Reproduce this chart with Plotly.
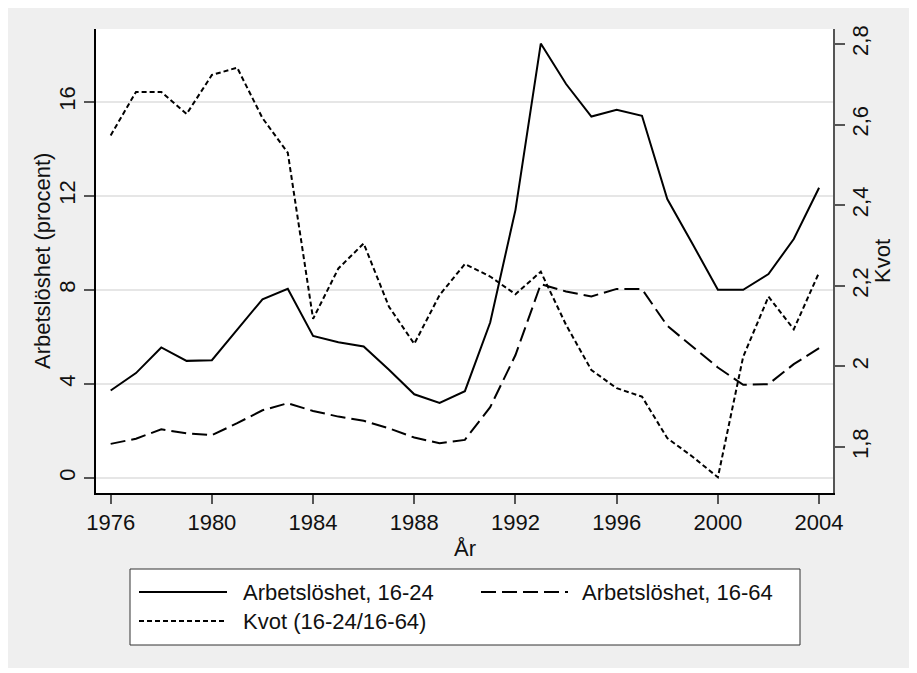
import plotly.graph_objects as go

# ---------------- data ----------------
years = [1976, 1977, 1978, 1979, 1980, 1981, 1982, 1983, 1984, 1985,
         1986, 1987, 1988, 1989, 1990, 1991, 1992, 1993, 1994, 1995,
         1996, 1997, 1998, 1999, 2000, 2001, 2002, 2003, 2004]
unemp_16_24 = [3.72, 4.46, 5.55, 4.98, 5.01, 6.31, 7.60, 8.04, 6.04, 5.77,
               5.59, 4.60, 3.56, 3.19, 3.69, 6.61, 11.40, 18.47, 16.75, 15.37,
               15.66, 15.40, 11.86, 9.95, 8.00, 8.00, 8.67, 10.16, 12.34]
unemp_16_64 = [1.45, 1.67, 2.07, 1.90, 1.82, 2.33, 2.88, 3.18, 2.85, 2.61,
               2.43, 2.11, 1.72, 1.48, 1.62, 3.01, 5.23, 8.24, 7.93, 7.72,
               8.04, 8.03, 6.47, 5.59, 4.70, 3.96, 3.99, 4.84, 5.52]
kvot = [2.573, 2.681, 2.681, 2.626, 2.723, 2.741, 2.616, 2.530, 2.118, 2.243,
        2.305, 2.148, 2.056, 2.177, 2.254, 2.223, 2.179, 2.235, 2.103, 1.991,
        1.946, 1.925, 1.822, 1.776, 1.725, 2.024, 2.173, 2.092, 2.233]

x_ticks = [1976, 1980, 1984, 1988, 1992, 1996, 2000, 2004]
left_ticks = [0, 4, 8, 12, 16]
right_tickvals = [1.8, 2.0, 2.2, 2.4, 2.6, 2.8]
right_ticktext = ["1,8", "2", "2,2", "2,4", "2,6", "2,8"]

names = ["Arbetslöshet, 16-24", "Arbetslöshet, 16-64", "Kvot (16-24/16-64)"]
dashes = ["solid", "15px,6px", "5px,3px"]

# ---------------- geometry helpers (layout only) ----------------
# page coordinates of the reference; the browser's default 8px body margin
# offsets the figure, so the figure itself is 8px smaller.
PAGE_W, PAGE_H = 917, 673
OFF = 8
W, H = PAGE_W - OFF, PAGE_H - OFF
L, R, T, B = 96, 833, 29, 493
FONT = "Liberation Sans, Arial, sans-serif"
FS = 22
GRAYBG = "#efefef"
TXT = "#111111"


def px_x(px):
    return (px - L) / (R - L)


def px_y(py):
    return (B - py) / (B - T)


fig = go.Figure()
fig.add_trace(go.Scatter(x=years, y=unemp_16_24, name=names[0], mode="lines",
                         line=dict(color="black", width=2, dash=dashes[0]),
                         showlegend=False))
fig.add_trace(go.Scatter(x=years, y=unemp_16_64, name=names[1], mode="lines",
                         line=dict(color="black", width=2, dash=dashes[1]),
                         showlegend=False))
fig.add_trace(go.Scatter(x=years, y=kvot, name=names[2], mode="lines", yaxis="y2",
                         line=dict(color="black", width=2, dash=dashes[2]),
                         showlegend=False))

shapes = []
# thin white border at right and bottom of the image
for x0, y0, x1, y1 in [(0, PAGE_H - 5, PAGE_W + 5, PAGE_H + 5),
                       (PAGE_W - 5, 0, PAGE_W + 5, PAGE_H + 5)]:
    shapes.append(dict(type="rect", xref="paper", yref="paper",
                       x0=px_x(x0), x1=px_x(x1), y0=px_y(y1), y1=px_y(y0),
                       fillcolor="white", line=dict(width=0), layer="below"))

# legend box
lg_x0, lg_x1, lg_y0, lg_y1 = 130, 800, 569, 645
shapes.append(dict(type="rect", xref="paper", yref="paper",
                   x0=px_x(lg_x0), x1=px_x(lg_x1), y0=px_y(lg_y1), y1=px_y(lg_y0),
                   fillcolor="white", line=dict(color="#333333", width=1)))
legend_items = [  # (line x0, line x1, text x, row y)
    (139, 227, 241, 592),
    (481, 568, 580, 592),
    (139, 227, 241, 621),
]
annotations = []
for (lx0, lx1, tx, ry), nm, ds in zip(legend_items, names, dashes):
    shapes.append(dict(type="line", xref="paper", yref="paper",
                       x0=px_x(lx0), x1=px_x(lx1), y0=px_y(ry), y1=px_y(ry),
                       line=dict(color="black", width=2, dash=ds)))
    annotations.append(dict(text=nm, xref="paper", yref="paper",
                            x=px_x(tx), y=px_y(ry), xanchor="left", yanchor="middle",
                            showarrow=False, font=dict(family=FONT, size=FS, color=TXT)))

# axis titles
annotations.append(dict(text="Arbetslöshet (procent)", xref="paper", yref="paper",
                        x=px_x(42), y=px_y(261), textangle=-90, showarrow=False,
                        xanchor="center", yanchor="middle",
                        font=dict(family=FONT, size=FS, color=TXT)))
annotations.append(dict(text="Kvot", xref="paper", yref="paper",
                        x=px_x(882), y=px_y(261), textangle=-90, showarrow=False,
                        xanchor="center", yanchor="middle",
                        font=dict(family=FONT, size=FS, color=TXT)))
annotations.append(dict(text="År", xref="paper", yref="paper",
                        x=px_x(464.5), y=px_y(548), showarrow=False,
                        xanchor="center", yanchor="middle",
                        font=dict(family=FONT, size=FS, color=TXT)))

fig.update_layout(
    width=W, height=H, autosize=False,
    margin=dict(l=L - OFF, r=PAGE_W - R, t=T - OFF, b=PAGE_H - B, pad=0),
    paper_bgcolor=GRAYBG, plot_bgcolor="white",
    font=dict(family=FONT, size=FS, color=TXT),
    showlegend=False,
    xaxis=dict(range=[1975.42, 2004.55], tickvals=x_ticks, ticks="outside",
               ticklen=9, tickwidth=1.5, tickcolor="#555555",
               showline=True, linecolor="black", linewidth=1.5,
               showgrid=False, zeroline=False,
               tickfont=dict(family=FONT, size=FS, color=TXT)),
    yaxis=dict(range=[-0.638, 19.09], tickvals=left_ticks, ticks="outside",
               ticklen=10, tickwidth=1.5, tickcolor="#555555", tickangle=-90,
               showline=True, linecolor="black", linewidth=1.5,
               showgrid=True, gridcolor="#e6e6e6", gridwidth=1.5, zeroline=False,
               tickfont=dict(family=FONT, size=FS, color=TXT)),
    yaxis2=dict(range=[1.686, 2.837], tickvals=right_tickvals, ticktext=right_ticktext,
                overlaying="y", side="right", ticks="outside",
                ticklen=10, tickwidth=1.5, tickcolor="#555555", tickangle=-90,
                ticklabelstandoff=-3,
                showline=True, linecolor="#555555", linewidth=1.5,
                showgrid=False, zeroline=False,
                tickfont=dict(family=FONT, size=FS, color=TXT)),
    shapes=shapes,
    annotations=annotations,
)

fig.write_html("out.html")
